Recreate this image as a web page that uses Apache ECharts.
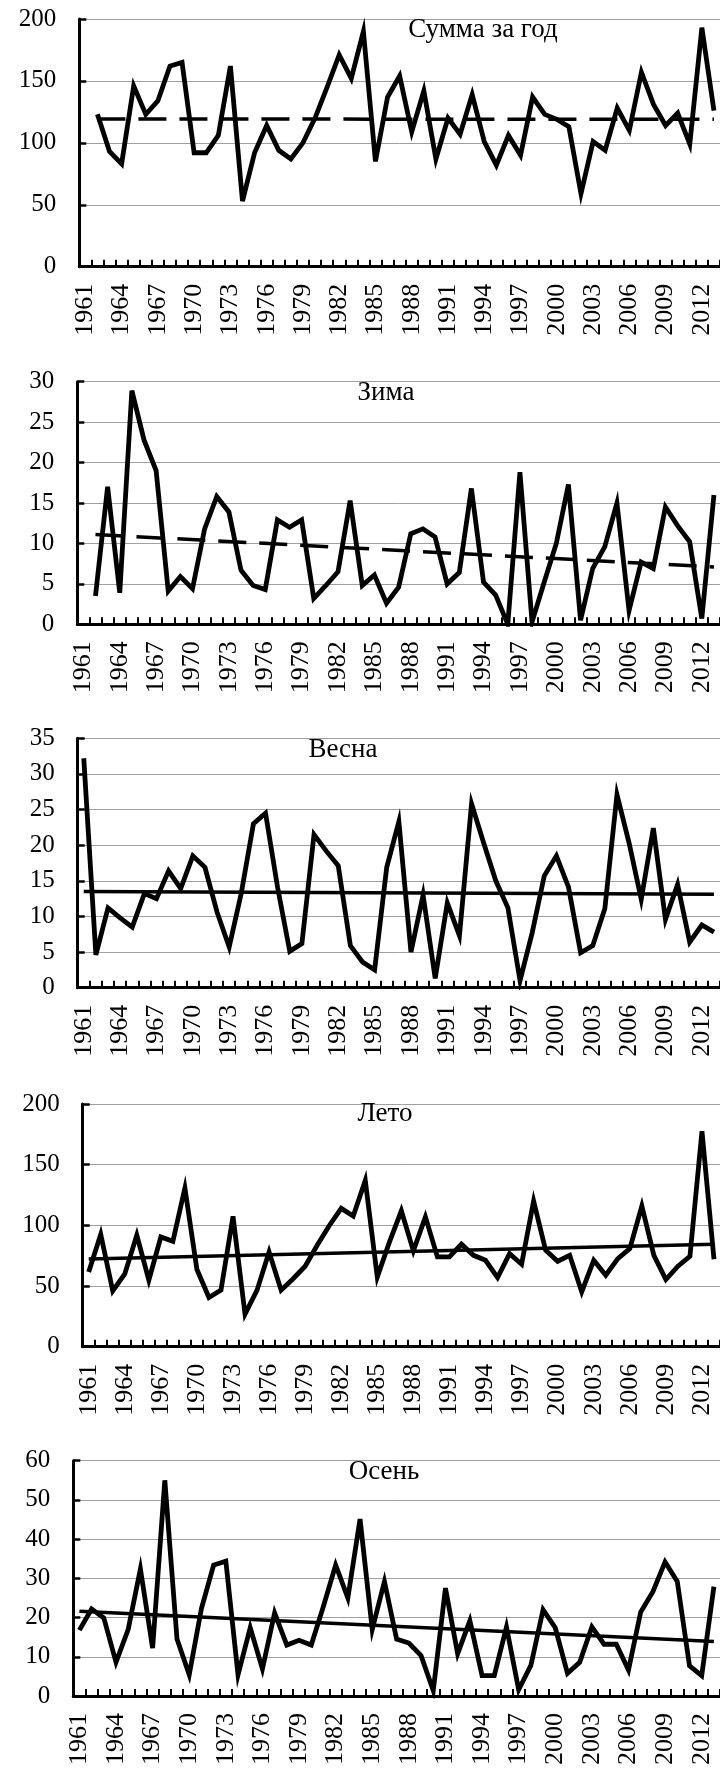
<!DOCTYPE html>
<html>
<head>
<meta charset="utf-8">
<script src="https://cdn.jsdelivr.net/npm/echarts@6/dist/echarts.min.js"></script>
<style>
html,body{margin:0;padding:0;background:#fff;overflow:hidden}
#c{width:720px;height:1768px}
</style>
</head>
<body>
<div id="c"></div>
<script>
// ---- Data ----
const years = ['1961','1962','1963','1964','1965','1966','1967','1968','1969','1970',
  '1971','1972','1973','1974','1975','1976','1977','1978','1979','1980',
  '1981','1982','1983','1984','1985','1986','1987','1988','1989','1990',
  '1991','1992','1993','1994','1995','1996','1997','1998','1999','2000',
  '2001','2002','2003','2004','2005','2006','2007','2008','2009','2010',
  '2011','2012','2013'];

const titles = ['Сумма за год', 'Зима', 'Весна', 'Лето', 'Осень'];

const annual = [null, 123, 93, 83, 146, 123, 134, 162, 165, 92,
  92, 106, 162, 53, 92, 114, 94, 87, 100, 120,
  145, 171, 152, 190, 85, 137, 154, 109, 142, 87,
  120, 107, 139, 101, 82, 106, 90, 137, 123, 119,
  113, 59, 101, 94, 128, 110, 157, 131, 114, 124,
  99, 193, 126];

const winter = [null, 3.5, 17, 3.9, 28.9, 22.8, 19, 4.1, 5.9, 4.4,
  11.8, 15.8, 13.9, 6.7, 4.8, 4.3, 12.9, 12, 12.9, 3.2,
  4.8, 6.5, 15.3, 4.8, 6.1, 2.6, 4.6, 11.2, 11.8, 10.8,
  5, 6.4, 16.8, 5.2, 3.6, 0, 18.8, 0.3, 5.2, 10,
  17.3, 0.5, 6.9, 9.6, 15, 1.7, 7.7, 6.9, 14.5, 12.2,
  10.2, 0.7, 16];

const spring = [32.2, 4.6, 11.2, 9.8, 8.5, 13.2, 12.5, 16.4, 13.9, 18.5,
  16.9, 10.6, 5.7, 13.3, 23, 24.5, 14, 5.1, 6.2, 21.5,
  19.2, 17.1, 5.9, 3.6, 2.5, 16.9, 23.3, 5, 13, 1.3,
  11.9, 7.3, 25.8, 20.3, 15, 11.2, 1, 7.7, 15.7, 18.5,
  14.1, 4.9, 5.9, 11.1, 27.1, 20.3, 12.4, 22.4, 9.6, 14.5,
  6.4, 8.8, 7.8];

const summer = [61.6, 92.6, 46, 60, 92, 54.8, 90.4, 86.8, 130.7, 63.6,
  40.5, 46.6, 107.4, 26.8, 46.6, 78, 46.6, 56, 66.3, 83.6,
  99.7, 114, 107.7, 137, 57.5, 86, 112, 79, 107, 74,
  74, 84.5, 75.3, 71.2, 57, 76.7, 68, 120, 79.5, 70.4,
  75.3, 45.2, 71.2, 58.9, 72.6, 80.8, 115.9, 75.3, 55.3, 66.3,
  74.5, 177.5, 72];

const autumn = [16.8, 22.2, 19.9, 8.6, 17, 32.4, 12.2, 55, 14.5, 5.4,
  22.3, 33.4, 34.4, 5.4, 17.4, 6.9, 21.2, 13, 14.2, 13,
  22.9, 33.4, 25, 45.1, 17, 29.2, 14.5, 13.5, 10.3, 1.4,
  27.5, 10.8, 19.2, 5.2, 5.2, 17.6, 1.6, 7.8, 22, 17.4,
  5.8, 8.6, 17.6, 13.2, 13.2, 6.6, 21.4, 26.6, 34.2, 29.2,
  7.7, 5.2, 27.9];

// Linear trend lines: [year, value] at start and end
const annualTrend = [['1962', 119.2], ['2013', 119.1]];
const winterTrend = [['1962', 11.1], ['2013', 7.1]];
const springTrend = [['1961', 13.5], ['2013', 13.1]];
const summerTrend = [['1961', 72.3], ['2013', 84.4]];
const autumnTrend = [['1961', 21.6], ['2013', 13.9]];

// Y axis ranges (max, step)
const yMax = [200, 30, 35, 200, 60];
const yStep = [50, 5, 5, 50, 10];

// ---- Layout ----
const grids = [
  {left: 79.3, top: 19,     width: 645, height: 247.7},
  {left: 77.3, top: 381.7,  width: 645, height: 242.6},
  {left: 77.7, top: 738.3,  width: 643, height: 249.4},
  {left: 82.7, top: 1104,   width: 641, height: 242.7},
  {left: 73.3, top: 1460.7, width: 650, height: 238.6}
];
const titlePos = [[483, 30], [386, 393], [343, 750], [385, 1114], [384, 1472]];
const dashed = [true, true, false, false, false];

const values = [annual, winter, spring, summer, autumn];
const trends = [annualTrend, winterTrend, springTrend, summerTrend, autumnTrend];

const FONT = '"Liberation Serif", "Times New Roman", serif';

const xAxes = grids.map((g, i) => ({
  type: 'category', gridIndex: i, data: years, boundaryGap: true,
  axisLine: {show: true, lineStyle: {color: '#000', width: 3}},
  axisTick: {show: true, inside: true, length: 7, interval: 0, lineStyle: {color: '#000', width: 2}},
  axisLabel: {interval: 2, rotate: 90, margin: 17, color: '#000', fontFamily: FONT, fontSize: 26},
  splitLine: {show: false}
}));

const yAxes = grids.map((g, i) => ({
  type: 'value', gridIndex: i, min: 0, max: yMax[i], interval: yStep[i],
  axisLine: {show: true, lineStyle: {color: '#000', width: 3}},
  axisTick: {show: true, inside: true, length: 7, lineStyle: {color: '#000', width: 2.5}},
  axisLabel: {margin: 23, color: '#000', fontFamily: FONT, fontSize: 25},
  splitLine: {show: true, lineStyle: {color: '#a0a0a0', width: 1}}
}));

const series = [];
values.forEach((v, i) => {
  series.push({
    type: 'line', xAxisIndex: i, yAxisIndex: i, data: v,
    symbol: 'none', silent: true, z: 3,
    lineStyle: {color: '#000', width: 4.8, join: 'miter', miterLimit: 6}
  });
  series.push({
    type: 'line', xAxisIndex: i, yAxisIndex: i, data: trends[i],
    symbol: 'none', silent: true, z: 4,
    lineStyle: {color: '#000', width: 3.5, type: dashed[i] ? [28, 13] : 'solid'}
  });
});

const chart = echarts.init(document.getElementById('c'), null, {renderer: 'canvas'});
chart.setOption({
  animation: false,
  backgroundColor: '#fff',
  grid: grids.map(g => Object.assign({containLabel: false}, g)),
  xAxis: xAxes,
  yAxis: yAxes,
  series: series,
  graphic: titles.map((t, i) => ({
    type: 'text', x: titlePos[i][0], y: titlePos[i][1], z: 10,
    style: {text: t, fill: '#000', font: '27px ' + FONT, textAlign: 'center', textVerticalAlign: 'middle'}
  }))
});
</script>
</body>
</html>
